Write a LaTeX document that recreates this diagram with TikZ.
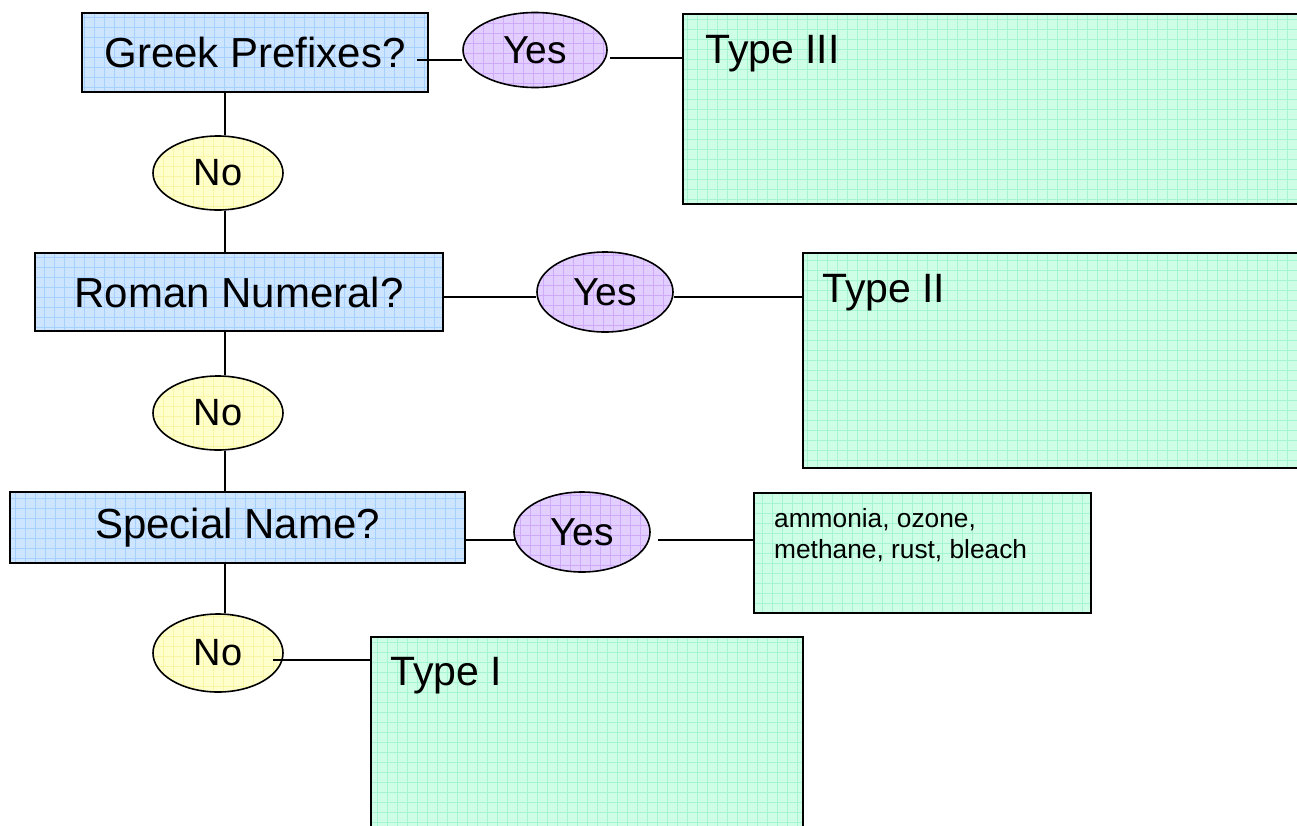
\documentclass[tikz,border=0pt]{standalone}
\usepackage{fontspec}
\setmainfont{Liberation Sans}
\usetikzlibrary{shapes.geometric}
\definecolor{bluefill}{RGB}{206,229,255}
\definecolor{bluegrid}{RGB}{165,208,255}
\definecolor{greenfill}{RGB}{206,255,230}
\definecolor{greengrid}{RGB}{165,245,208}
\definecolor{yellowfill}{RGB}{255,255,204}
\definecolor{yellowgrid}{RGB}{248,245,165}
\definecolor{purplefill}{RGB}{226,206,255}
\definecolor{purplegrid}{RGB}{207,170,250}
\tikzset{
  gridfill/.style n args={2}{fill=#1, path picture={
      \begin{scope}[x=1pt,y=1pt]
      \draw[#2, line width=0.6pt] ([shift={(-20pt,-20pt)}]path picture bounding box.south west) grid[step=10pt] ([shift={(20pt,20pt)}]path picture bounding box.north east);
      \end{scope}}},
  qbox/.style={draw=black, line width=1.6pt, rectangle, inner sep=0pt, gridfill={bluefill}{bluegrid},
      font=\fontsize{42}{48}\selectfont},
  tbox/.style={draw=black, line width=1.6pt, rectangle, inner sep=0pt, gridfill={greenfill}{greengrid}},
  yesnode/.style={draw=black, line width=1.6pt, ellipse, inner sep=0pt, gridfill={purplefill}{purplegrid},
      font=\fontsize{39}{44}\selectfont},
  nonode/.style={draw=black, line width=1.6pt, ellipse, inner sep=0pt, gridfill={yellowfill}{yellowgrid},
      font=\fontsize{38}{44}\selectfont},
  ttext/.style={anchor=base west, inner sep=0pt, font=\fontsize{41}{48}\selectfont},
  stext/.style={anchor=base west, inner sep=0pt, align=left, font=\fontsize{26.3}{31}\selectfont},
  conn/.style={line width=1.6pt, draw=black}
}
\begin{document}
\begin{tikzpicture}[x=1pt,y=-1pt]
\useasboundingbox (0,0) rectangle (1297,825);
\clip (0,0) rectangle (1297,825);
% question boxes
\node[qbox, minimum width=346pt, minimum height=79pt] (gp) at (255,52.5) {Greek Prefixes?};
\node[qbox, minimum width=408pt, minimum height=78pt] (rn) at (239,292) {Roman Numeral?};
\node[qbox, minimum width=455pt, minimum height=71pt] (sn) at (237.5,527.5) {Special Name?};
% yes ellipses
\node[yesnode, minimum width=144pt, minimum height=75pt] (y1) at (535,50) {Yes};
\node[yesnode, minimum width=136pt, minimum height=80pt] (y2) at (605,292) {Yes};
\node[yesnode, minimum width=136pt, minimum height=80pt] (y3) at (582,532) {Yes};
% no ellipses
\node[nonode, minimum width=130pt, minimum height=74pt] (n1) at (218,173) {No};
\node[nonode, minimum width=130pt, minimum height=74pt] (n2) at (218,413) {No};
\node[nonode, minimum width=130pt, minimum height=78pt] (n3) at (218,653) {No};
% result boxes
\node[tbox, minimum width=628pt, minimum height=190pt, anchor=north west] (t3) at (682,13) {};
\node[tbox, minimum width=508pt, minimum height=215pt, anchor=north west] (t2) at (802,252) {};
\node[tbox, minimum width=337pt, minimum height=120pt, anchor=north west] (sb) at (753,492) {};
\node[tbox, minimum width=432pt, minimum height=210pt, anchor=north west] (t1) at (370,636) {};
\node[ttext] (t3l) at (705,63) {Type III};
\node[ttext] (t2l) at (822,302) {Type II};
\node[ttext] (t1l) at (390,685) {Type I};
\node[stext] (sbl) at (774,558) {ammonia, ozone,\\methane, rust, bleach};
% connectors
\coordinate (c1) at (417,60);
\coordinate (c2) at (610,58);
\coordinate (c3) at (273,660);
\draw[conn] (c1) -- (y1.west |- c1);
\draw[conn] (c2) -- (t3.west |- c2);
\draw[conn] (gp.south -| 225,0) -- (n1.north -| 225,0);
\draw[conn] (n1.south -| 225,0) -- (rn.north -| 225,0);
\draw[conn] (rn.east |- 0,297) -- (y2.west |- 0,297);
\draw[conn] (y2.east |- 0,297) -- (t2.west |- 0,297);
\draw[conn] (rn.south -| 225,0) -- (n2.north -| 225,0);
\draw[conn] (n2.south -| 225,0) -- (sn.north -| 225,0);
\draw[conn] (sn.east |- 0,540) -- (516,540);
\draw[conn] (658,540) -- (sb.west |- 0,540);
\draw[conn] (sn.south -| 225,0) -- (n3.north -| 225,0);
\draw[conn] (c3) -- (t1.west |- c3);
\end{tikzpicture}
\end{document}
